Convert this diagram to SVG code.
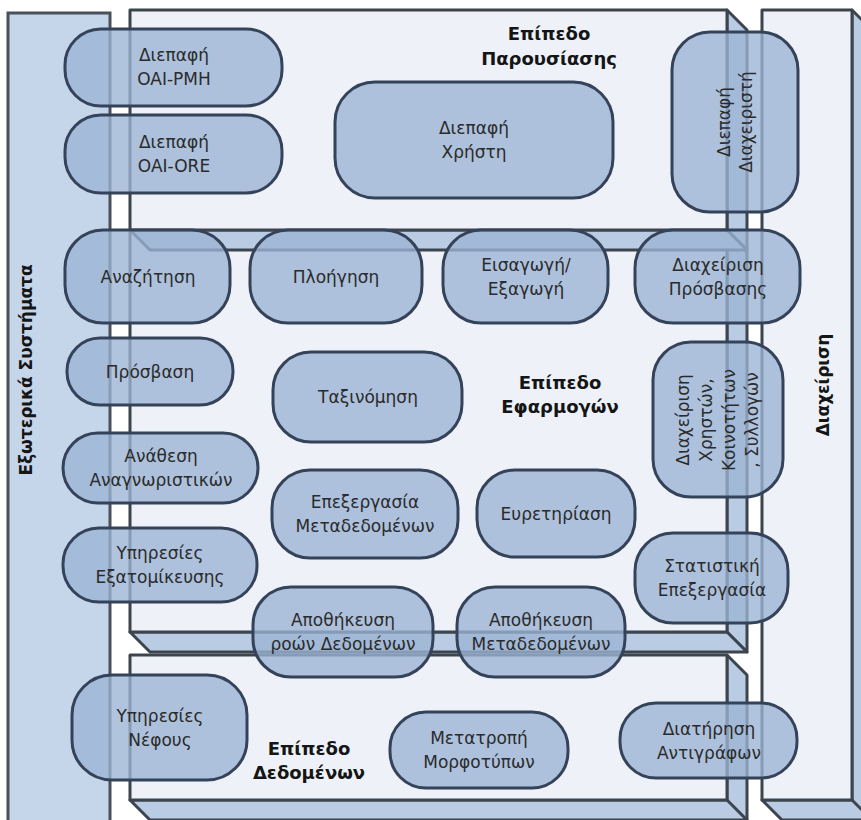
<svg xmlns="http://www.w3.org/2000/svg" width="861" height="820" viewBox="0 0 861 820">
<style>
.front{fill:#eef2f8;stroke:#3c444e;stroke-width:3;stroke-linejoin:round}
.side{fill:#b9cce4;stroke:#3c444e;stroke-width:3;stroke-linejoin:round}
.panel{fill:#c5d5ea;stroke:#4a5058;stroke-width:3}
.node rect{fill:#9bb3d3;fill-opacity:0.78;stroke:#35435a;stroke-width:3}
.t{font-family:"DejaVu Sans","Liberation Sans",sans-serif;font-size:17px;fill:#2b2b2b;text-anchor:middle}
.b{font-weight:bold;font-size:18px;fill:#151515}
</style>
<rect width="861" height="820" fill="#ffffff"/>
<g id="external-panel">
<rect class="panel" x="8" y="13" width="102" height="830"/>
<text class="t b" style="font-size:17px" transform="translate(26,370) rotate(-90)" y="6">Εξωτερικά Συστήματα</text>
</g>
<g id="management-panel">
<polygon class="side" points="852,10 872,30 872,840 852,820"/>
<polygon class="side" points="762,800 852,800 872,820 782,820"/>
<rect class="front" x="762" y="10" width="90" height="790"/>
<text class="t b" style="font-size:17px" transform="translate(823,385) rotate(-90)" y="6">Διαχείριση</text>
</g>
<g id="data-layer">
<polygon class="side" points="727,655 747,675 747,840 727,820"/>
<polygon class="side" points="130,800 727,800 747,820 150,820"/>
<rect class="front" x="130" y="655" width="597" height="145"/>
<text class="t b" x="309" y="755">Επίπεδο</text>
<text class="t b" x="309" y="779">Δεδομένων</text>
</g>
<g id="application-layer">
<polygon class="side" points="727,232 747,252 747,652 727,632"/>
<polygon class="side" points="130,632 727,632 747,652 150,652"/>
<rect class="front" x="130" y="232" width="597" height="400"/>
<text class="t b" x="560" y="389">Επίπεδο</text>
<text class="t b" x="560" y="413">Εφαρμογών</text>
</g>
<g id="presentation-layer">
<polygon class="side" points="727,10 747,30 747,250 727,230"/>
<polygon class="side" points="130,230 727,230 747,250 150,250"/>
<rect class="front" x="130" y="10" width="597" height="220"/>
<text class="t b" x="549" y="40">Επίπεδο</text>
<text class="t b" x="549" y="65">Παρουσίασης</text>
</g>
<g id="connectors"></g>
<g id="n-oaipmh" class="node"><rect x="65" y="29" width="217" height="77" rx="36"/>
<text class="t" x="174" y="61">Διεπαφή</text><text class="t" x="174" y="85">OAI-PMH</text></g>
<g id="n-oaiore" class="node"><rect x="65" y="115" width="217" height="78" rx="36"/>
<text class="t" x="174" y="148">Διεπαφή</text><text class="t" x="174" y="172">OAI-ORE</text></g>
<g id="n-userui" class="node"><rect x="335" y="82" width="278" height="116" rx="40"/>
<text class="t" x="474" y="134">Διεπαφή</text><text class="t" x="474" y="158">Χρήστη</text></g>
<g id="n-adminui" class="node"><rect x="672" y="32" width="126" height="180" rx="38"/>
<text class="t" transform="translate(735,122) rotate(-90)"><tspan x="0" y="-5">Διεπαφή</tspan><tspan x="0" y="17">Διαχειριστή</tspan></text></g>
<g id="n-search" class="node"><rect x="65" y="230" width="165" height="93" rx="38"/>
<text class="t" x="148" y="283">Αναζήτηση</text></g>
<g id="n-browse" class="node"><rect x="250" y="230" width="172" height="93" rx="38"/>
<text class="t" x="336" y="283">Πλοήγηση</text></g>
<g id="n-import" class="node"><rect x="443" y="230" width="165" height="93" rx="38"/>
<text class="t" x="526" y="271">Εισαγωγή/</text><text class="t" x="526" y="295">Εξαγωγή</text></g>
<g id="n-accessmgmt" class="node"><rect x="635" y="230" width="165" height="93" rx="38"/>
<text class="t" x="718" y="271">Διαχείριση</text><text class="t" x="718" y="295">Πρόσβασης</text></g>
<g id="n-access" class="node"><rect x="67" y="338" width="166" height="67" rx="33"/>
<text class="t" x="150" y="378">Πρόσβαση</text></g>
<g id="n-ids" class="node"><rect x="63" y="433" width="195" height="70" rx="35"/>
<text class="t" x="161" y="462">Ανάθεση</text><text class="t" x="161" y="486">Αναγνωριστικών</text></g>
<g id="n-personal" class="node"><rect x="63" y="528" width="194" height="74" rx="36"/>
<text class="t" x="160" y="559">Υπηρεσίες</text><text class="t" x="160" y="583">Εξατομίκευσης</text></g>
<g id="n-sort" class="node"><rect x="273" y="352" width="189" height="90" rx="38"/>
<text class="t" x="368" y="403">Ταξινόμηση</text></g>
<g id="n-metaproc" class="node"><rect x="272" y="470" width="186" height="88" rx="38"/>
<text class="t" x="365" y="508">Επεξεργασία</text><text class="t" x="365" y="532">Μεταδεδομένων</text></g>
<g id="n-index" class="node"><rect x="477" y="470" width="158" height="87" rx="38"/>
<text class="t" x="556" y="520">Ευρετηρίαση</text></g>
<g id="n-usersmgmt" class="node"><rect x="653" y="342" width="130" height="155" rx="38"/>
<text class="t" transform="translate(718,420) rotate(-90)"><tspan x="0" y="-29">Διαχείριση</tspan><tspan x="0" y="-6">Χρηστών,</tspan><tspan x="0" y="17">Κοινοτήτων</tspan><tspan x="0" y="40">, Συλλογών</tspan></text></g>
<g id="n-stats" class="node"><rect x="635" y="533" width="153" height="90" rx="38"/>
<text class="t" x="712" y="572">Στατιστική</text><text class="t" x="712" y="596">Επεξεργασία</text></g>
<g id="n-streamstore" class="node"><rect x="253" y="587" width="180" height="90" rx="38"/>
<text class="t" x="343" y="626">Αποθήκευση</text><text class="t" x="343" y="650">ροών Δεδομένων</text></g>
<g id="n-metastore" class="node"><rect x="457" y="587" width="168" height="90" rx="38"/>
<text class="t" x="541" y="626">Αποθήκευση</text><text class="t" x="541" y="650">Μεταδεδομένων</text></g>
<g id="n-cloud" class="node"><rect x="72" y="675" width="175" height="105" rx="40"/>
<text class="t" x="160" y="722">Υπηρεσίες</text><text class="t" x="160" y="746">Νέφους</text></g>
<g id="n-convert" class="node"><rect x="390" y="712" width="178" height="76" rx="36"/>
<text class="t" x="479" y="744">Μετατροπή</text><text class="t" x="479" y="768">Μορφοτύπων</text></g>
<g id="n-preserve" class="node"><rect x="620" y="703" width="177" height="75" rx="36"/>
<text class="t" x="709" y="735">Διατήρηση</text><text class="t" x="709" y="759">Αντιγράφων</text></g>
</svg>
